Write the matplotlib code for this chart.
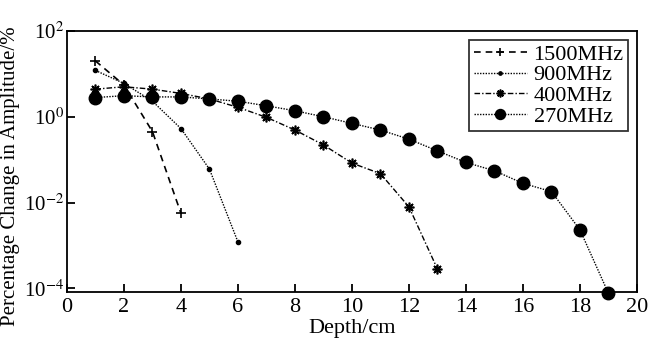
import matplotlib
matplotlib.use("Agg")
import matplotlib.pyplot as plt
import numpy as np

plt.rcParams['font.family'] = ['Liberation Serif', 'DejaVu Serif']
plt.rcParams['mathtext.fontset'] = 'stix'

depth_1500 = [1, 2, 3, 4]
amp_1500 = [20.0, 5.5, 0.45, 0.0056]
depth_900 = [1, 2, 3, 4, 5, 6]
amp_900 = [12.0, 6.0, 2.3, 0.53, 0.06, 0.0012]
depth_400 = [1, 2, 3, 4, 5, 6, 7, 8, 9, 10, 11, 12, 13]
amp_400 = [4.4, 5.0, 4.4, 3.5, 2.6, 1.66, 0.97, 0.49, 0.22, 0.083, 0.047, 0.0079, 0.00028]
depth_270 = [1, 2, 3, 4, 5, 6, 7, 8, 9, 10, 11, 12, 13, 14, 15, 16, 17, 18, 19]
amp_270 = [2.8, 3.1, 2.9, 2.9, 2.6, 2.3, 1.8, 1.38, 1.0, 0.70, 0.49, 0.30, 0.16, 0.086,
           0.055, 0.028, 0.018, 0.0023, 0.000076]

xticks = [0, 2, 4, 6, 8, 10, 12, 14, 16, 18, 20]
yticks = [1e-4, 1e-2, 1e0, 1e2]
ytick_labels = ['10$^{\\mathrm{-4}}$', '10$^{\\mathrm{-2}}$', '10$^{\\mathrm{0}}$', '10$^{\\mathrm{2}}$']

fig = plt.figure(figsize=(6.5, 3.52), dpi=100)
ax = fig.add_axes([0.103, 0.170, 0.877, 0.742])

ax.plot(depth_1500, amp_1500, linestyle=(0, (4, 3)), color='black', lw=1.2,
        marker='+', markersize=7, markeredgewidth=1.2, label='1500MHz')
ax.plot(depth_900, amp_900, linestyle=(0, (1, 1)), color='black', lw=1.0,
        marker='o', markersize=3, label='900MHz')
ax.plot(depth_400, amp_400, linestyle=(0, (4, 1.5, 1, 1.5)), color='black', lw=1.0,
        marker=(8, 2, 0), markersize=7, markeredgewidth=1.2, label='400MHz')
ax.plot(depth_270, amp_270, linestyle=(0, (1, 1)), color='black', lw=1.0,
        marker='o', markersize=9, label='270MHz', clip_on=False)

ax.set_yscale('log')
ax.set_xlim(0, 20)
ax.set_ylim(10**-4.09, 1e2)
ax.set_xticks(xticks)
ax.set_yticks(yticks)
ax.set_yticklabels(ytick_labels)
ax.minorticks_off()
ax.tick_params(direction='in', length=6, width=1.3, labelsize=16, top=False, right=False, pad=4)
ax.tick_params(axis='y', labelsize=15, pad=2)
for s in ax.spines.values():
    s.set_linewidth(1.3)

ax.set_xlabel('Depth/cm', fontsize=16, labelpad=2)
fig.text(11 / 650, 0.5, 'Percentage Change in Amplitude/%', fontsize=15,
         rotation=90, ha='center', va='center')

leg = ax.legend(loc='upper right', fontsize=16, frameon=True, fancybox=False,
                edgecolor='black', borderpad=0.2, labelspacing=0.0, handlelength=2.4,
                handletextpad=0.3, borderaxespad=0.4, markerscale=0.8)
leg.get_frame().set_linewidth(1.3)

fig.savefig('out.png', dpi=100)
